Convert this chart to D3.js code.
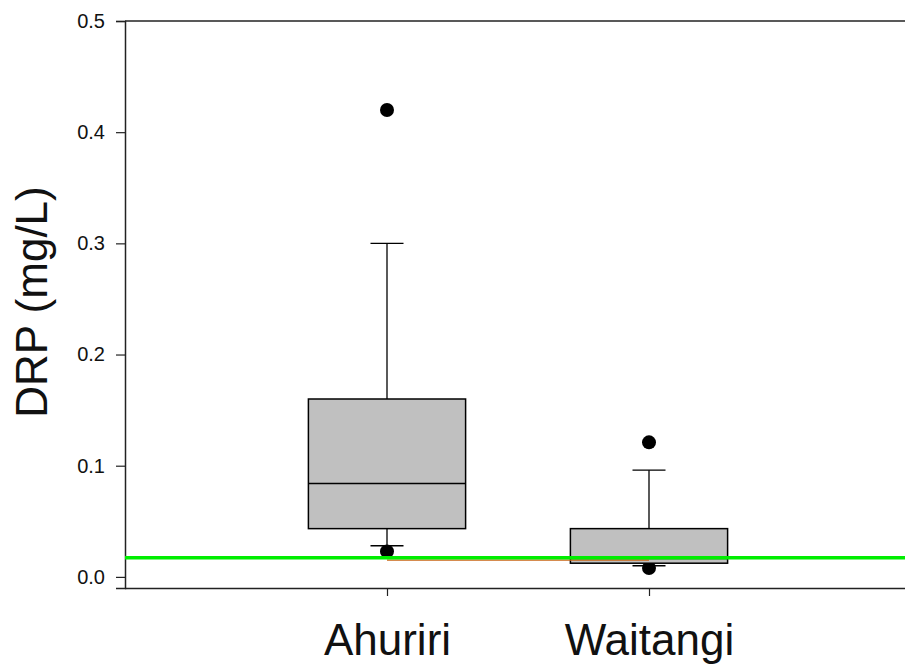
<!DOCTYPE html>
<html>
<head>
<meta charset="utf-8">
<script src="https://cdn.jsdelivr.net/npm/d3@7"></script>
<style>
  html, body { margin: 0; padding: 0; background: #fff; }
  svg { display: block; font-family: "Liberation Sans", Arial, sans-serif; }
</style>
</head>
<body>
<svg id="chart" width="905" height="670"></svg>
<script>
// Sites and box-plot summaries of dissolved reactive phosphorus (mg/L)
const sites       = ["Ahuriri", "Waitangi"];
const q1          = [0.0434, 0.0123];
const medians     = [0.0840, 0.0165];
const q3          = [0.1600, 0.0434];
const whiskerLow  = [0.0280, 0.0100];
const whiskerHigh = [0.3000, 0.0960];
const outliers    = [[0.420, 0.0228], [0.121, 0.0080]];

// Reference levels
const guideline   = 0.0172;   // green guideline across the plot
const connector   = 0.0150;   // thin line joining the two sites

const yTicks = [0.0, 0.1, 0.2, 0.3, 0.4, 0.5];

const svg = d3.select("#chart");
const mLeft = 125, mRight = 911, mTop = 21, mBottom = 588, frameRight = 905;

const x = d3.scalePoint().domain(sites).range([mLeft, mRight]).padding(1);
const y = d3.scaleLinear().domain([-0.01, 0.5]).range([mBottom, mTop]);
const boxW = x.step() * 0.6;
const capW = 33;

// Top border
svg.append("line").attr("x1", mLeft).attr("x2", frameRight).attr("y1", mTop).attr("y2", mTop)
  .attr("stroke", "#222").attr("stroke-width", 1.5);

// Y axis
const yAxis = svg.append("g").attr("transform", `translate(${mLeft},0)`)
  .call(d3.axisLeft(y).tickValues(yTicks).tickFormat(d3.format(".1f")).tickSizeOuter(0).tickSize(9).tickPadding(11));
yAxis.select(".domain").attr("stroke", "#222").attr("stroke-width", 1.5);
yAxis.selectAll(".tick line").attr("stroke", "#222").attr("stroke-width", 1.2);
yAxis.selectAll(".tick text").attr("font-size", 20).attr("fill", "#111")
  .attr("font-family", "Liberation Sans, Arial, sans-serif");

// X axis
const xAxis = svg.append("g").attr("transform", `translate(0,${mBottom})`)
  .call(d3.axisBottom(x).tickSizeOuter(0).tickSize(8).tickPadding(28));
xAxis.select(".domain").attr("d", `M${mLeft},0.5H${frameRight}`).attr("stroke", "#222").attr("stroke-width", 1.5);
xAxis.selectAll(".tick line").attr("stroke", "#222").attr("stroke-width", 1.2);
xAxis.selectAll(".tick text").attr("font-size", 44).attr("fill", "#111")
  .attr("font-family", "Liberation Sans, Arial, sans-serif").attr("dy", "0.71em");

// Y axis title
svg.append("text")
  .attr("transform", "translate(47,302) rotate(-90)")
  .attr("text-anchor", "middle")
  .attr("font-size", 44).attr("fill", "#111")
  .text("DRP (mg/L)");

const plot = svg.append("g");
sites.forEach((s, i) => {
  const cx = x(s);
  const g = plot.append("g");
  // whiskers
  g.append("line").attr("x1", cx).attr("x2", cx).attr("y1", y(q3[i])).attr("y2", y(whiskerHigh[i]))
    .attr("stroke", "#000").attr("stroke-width", 1.3);
  g.append("line").attr("x1", cx).attr("x2", cx).attr("y1", y(q1[i])).attr("y2", y(whiskerLow[i]))
    .attr("stroke", "#000").attr("stroke-width", 1.3);
  [whiskerHigh[i], whiskerLow[i]].forEach(v => {
    g.append("line").attr("x1", cx - capW / 2).attr("x2", cx + capW / 2).attr("y1", y(v)).attr("y2", y(v))
      .attr("stroke", "#000").attr("stroke-width", 1.3);
  });
  // outliers
  outliers[i].forEach(v => {
    g.append("circle").attr("cx", cx).attr("cy", y(v)).attr("r", 7).attr("fill", "#000");
  });
  // box
  g.append("rect").attr("x", cx - boxW / 2).attr("width", boxW)
    .attr("y", y(q3[i])).attr("height", y(q1[i]) - y(q3[i]))
    .attr("fill", "#c0c0c0").attr("stroke", "#000").attr("stroke-width", 1.5);
  g.append("line").attr("x1", cx - boxW / 2).attr("x2", cx + boxW / 2)
    .attr("y1", y(medians[i])).attr("y2", y(medians[i]))
    .attr("stroke", "#000").attr("stroke-width", 1.3);
});

// Thin connector between sites
svg.append("line").attr("x1", x(sites[0])).attr("x2", x(sites[1]))
  .attr("y1", y(connector)).attr("y2", y(connector))
  .attr("stroke", "#c86414").attr("stroke-width", 1.2);

// Guideline
svg.append("line").attr("x1", mLeft).attr("x2", frameRight)
  .attr("y1", y(guideline)).attr("y2", y(guideline))
  .attr("stroke", "#00ee00").attr("stroke-width", 3.5);
</script>
</body>
</html>
